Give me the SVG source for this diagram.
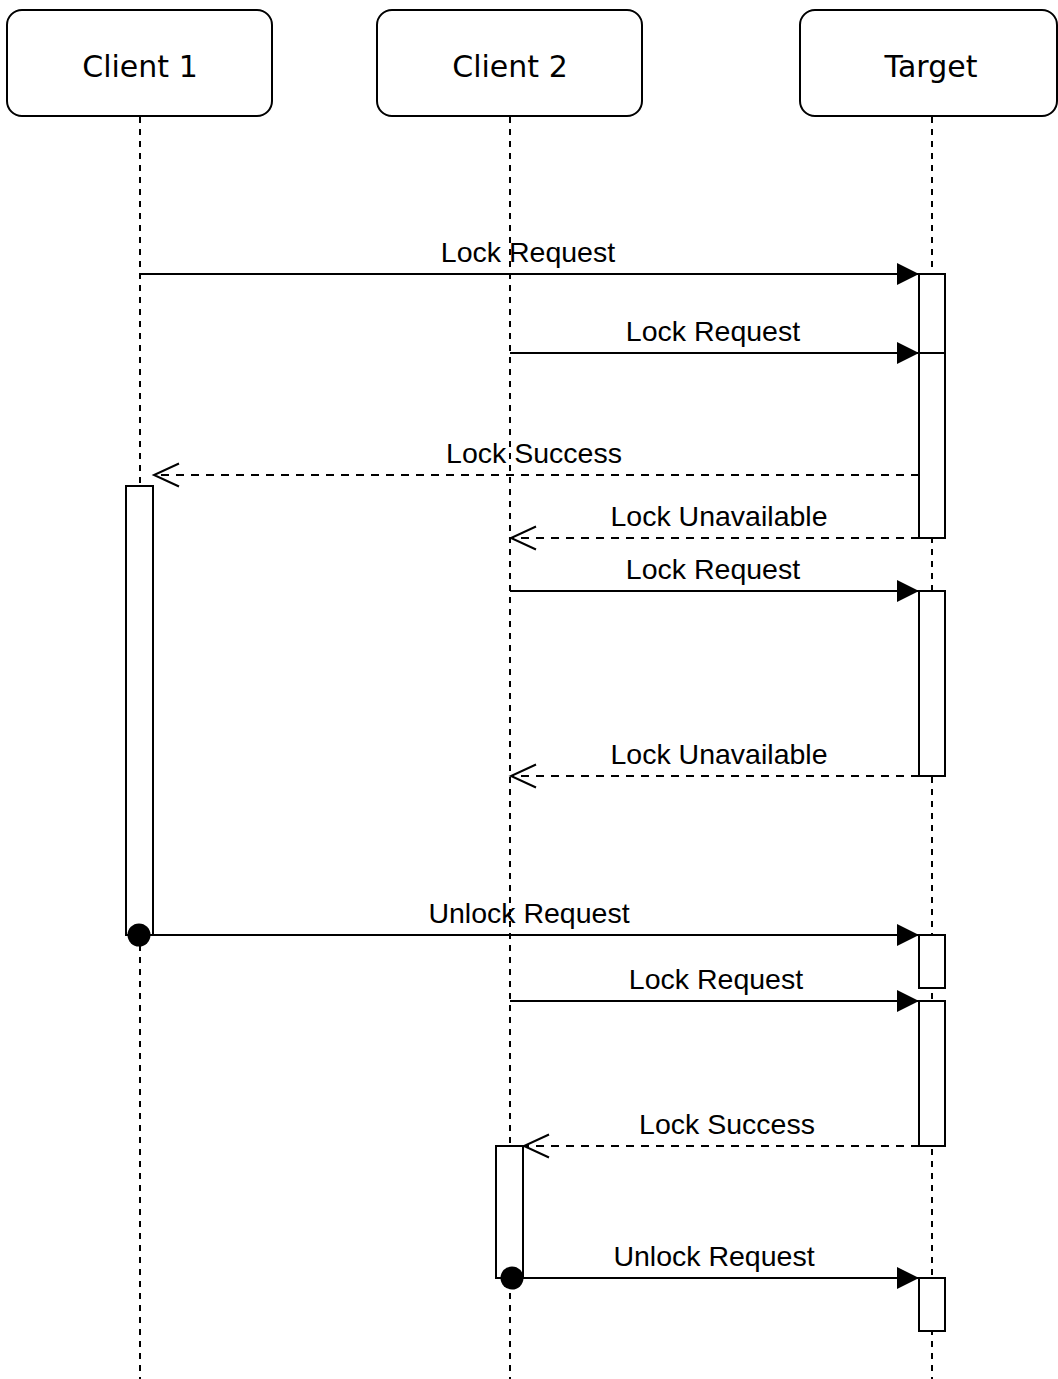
<svg xmlns="http://www.w3.org/2000/svg" width="1058" height="1379" viewBox="0 0 1058 1379">
  <style>
    .head { fill: #fff; stroke: #000; stroke-width: 2; }
    .head-text { font-family: "DejaVu Sans", Verdana, sans-serif; font-size: 30px; fill: #000; text-anchor: middle; }
    .life { stroke: #000; stroke-width: 2; stroke-dasharray: 6 6; fill: none; }
    .bar { fill: #fff; stroke: #000; stroke-width: 2; }
    .msg { stroke: #000; stroke-width: 2; fill: none; }
    .reply { stroke: #000; stroke-width: 2; fill: none; stroke-dasharray: 8 7; }
    .label { font-family: "Liberation Sans", Arial, Helvetica, sans-serif; font-size: 28.5px; fill: #000; text-anchor: middle; }
  </style>
  <defs>
    <!-- filled triangle for synchronous calls -->
    <marker id="solidHead" markerUnits="userSpaceOnUse" markerWidth="24" markerHeight="24" refX="22" refY="11" orient="auto">
      <path d="M0,0 L22,11 L0,22 Z" fill="#000"/>
    </marker>
    <!-- open chevron for replies -->
    <marker id="openHead" markerUnits="userSpaceOnUse" markerWidth="30" markerHeight="30" refX="26" refY="13" orient="auto">
      <path d="M1,1.5 L26,13 L1,24.5" fill="none" stroke="#000" stroke-width="2"/>
    </marker>
  </defs>
  <rect width="1058" height="1379" fill="#fff"/>

  <!-- lifelines -->
  <g id="lifelines">
    <line class="life" x1="140" y1="117" x2="140" y2="1379"/>
    <line class="life" x1="510" y1="117" x2="510" y2="1379"/>
    <line class="life" x1="932" y1="117" x2="932" y2="1379"/>
  </g>

  <!-- participants -->
  <g id="client1">
    <rect class="head" x="7" y="10" width="265" height="106" rx="15"/>
    <text class="head-text" x="140" y="77">Client 1</text>
  </g>
  <g id="client2">
    <rect class="head" x="377" y="10" width="265" height="106" rx="15"/>
    <text class="head-text" x="510" y="77">Client 2</text>
  </g>
  <g id="target">
    <rect class="head" x="800" y="10" width="257" height="106" rx="15"/>
    <text class="head-text" x="931" y="77">Target</text>
  </g>

  <!-- activation bars -->
  <g id="activations">
    <rect id="t-act1" class="bar" x="919" y="274" width="26" height="79"/>
    <rect id="t-act2" class="bar" x="919" y="353" width="26" height="185"/>
    <rect id="c1-act" class="bar" x="126" y="486" width="27" height="449"/>
    <rect id="t-act3" class="bar" x="919" y="591" width="26" height="185"/>
    <rect id="t-act4" class="bar" x="919" y="935" width="26" height="53"/>
    <rect id="t-act5" class="bar" x="919" y="1001" width="26" height="145"/>
    <rect id="c2-act" class="bar" x="496" y="1146" width="27" height="132"/>
    <rect id="t-act6" class="bar" x="919" y="1278" width="26" height="53"/>
  </g>

  <!-- messages -->
  <g id="connectors">
    <line class="msg" x1="140" y1="274" x2="919" y2="274" marker-end="url(#solidHead)"/>
    <line class="msg" x1="510" y1="353" x2="919" y2="353" marker-end="url(#solidHead)"/>
    <line class="reply" x1="919" y1="475" x2="154" y2="475" marker-end="url(#openHead)"/>
    <line class="reply" x1="919" y1="538" x2="511" y2="538" marker-end="url(#openHead)"/>
    <line class="msg" x1="510" y1="591" x2="919" y2="591" marker-end="url(#solidHead)"/>
    <line class="reply" x1="919" y1="776" x2="511" y2="776" marker-end="url(#openHead)"/>
    <line class="msg" x1="140" y1="935" x2="919" y2="935" marker-end="url(#solidHead)"/>
    <circle cx="139" cy="935" r="11.5" fill="#000"/>
    <line class="msg" x1="510" y1="1001" x2="919" y2="1001" marker-end="url(#solidHead)"/>
    <line class="reply" x1="919" y1="1146" x2="524" y2="1146" marker-end="url(#openHead)"/>
    <line class="msg" x1="512" y1="1278" x2="919" y2="1278" marker-end="url(#solidHead)"/>
    <circle cx="512" cy="1278" r="11.5" fill="#000"/>
  </g>

  <!-- message labels -->
  <g id="labels">
    <text class="label" x="528" y="262">Lock Request</text>
    <text class="label" x="713" y="341">Lock Request</text>
    <text class="label" x="534" y="463">Lock Success</text>
    <text class="label" x="719" y="526">Lock Unavailable</text>
    <text class="label" x="713" y="579">Lock Request</text>
    <text class="label" x="719" y="764">Lock Unavailable</text>
    <text class="label" x="529" y="923">Unlock Request</text>
    <text class="label" x="716" y="989">Lock Request</text>
    <text class="label" x="727" y="1134">Lock Success</text>
    <text class="label" x="714" y="1266">Unlock Request</text>
  </g>
</svg>
